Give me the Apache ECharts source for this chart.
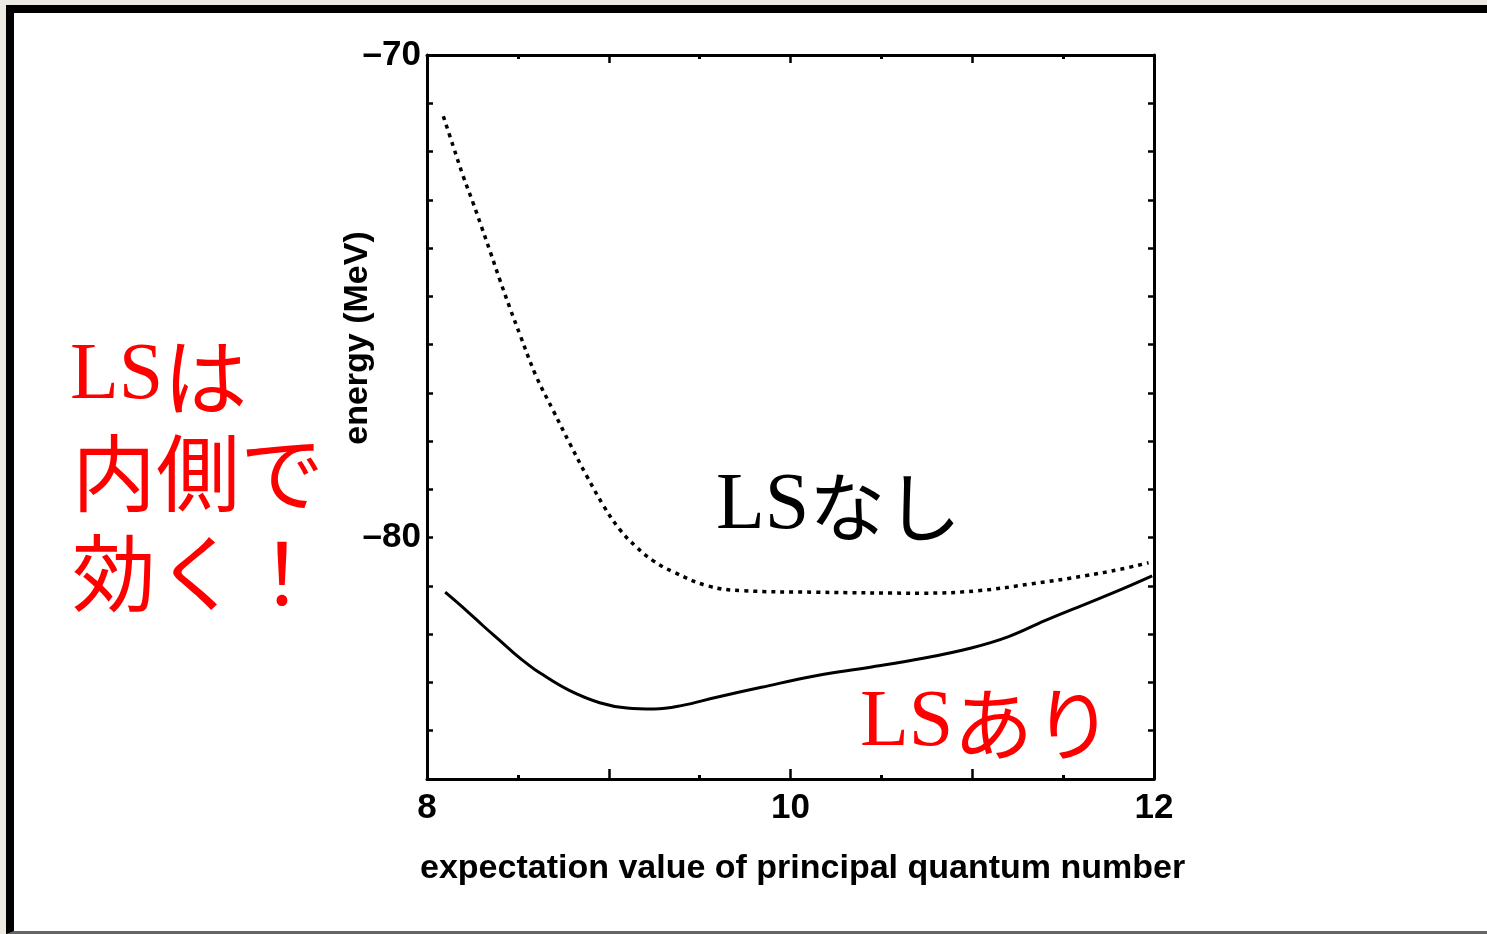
<!DOCTYPE html>
<html>
<head>
<meta charset="utf-8">
<title>energy vs principal quantum number</title>
<script src="https://cdn.jsdelivr.net/npm/echarts@6/dist/echarts.min.js"></script>
<style>
  html, body { margin: 0; padding: 0; width: 1487px; height: 934px; overflow: hidden; background: #edeae3; }
  #frame {
    position: absolute; left: 6px; top: 5px; width: 1500px; height: 918px;
    background: #ffffff;
    border-top: 8px solid #000; border-left: 8px solid #000; border-bottom: 3px solid #666;
  }
  #chart { position: absolute; left: 0; top: 0; width: 1487px; height: 934px; }
</style>
</head>
<body>
<div id="frame"></div>
<div id="chart"></div>
<script>
// Without LS force (dotted curve)
const xNoLS = [8.09, 8.145, 8.20, 8.255, 8.30, 8.35, 8.40, 8.457, 8.512, 8.60, 8.695, 8.787, 8.88, 8.97, 9.06, 9.154, 9.245, 9.35, 9.545, 9.74, 10.14, 10.73, 11.03, 11.32, 11.62, 11.82, 11.97];
const yNoLS = [-71.27, -71.90, -72.52, -73.08, -73.56, -74.10, -74.65, -75.25, -75.80, -76.65, -77.37, -78.06, -78.73, -79.33, -79.83, -80.20, -80.48, -80.70, -81.00, -81.10, -81.13, -81.15, -81.10, -80.96, -80.79, -80.65, -80.52];

// With LS force (solid curve)
const xLS = [8.10, 8.22, 8.31, 8.40, 8.475, 8.55, 8.62, 8.78, 8.95, 9.10, 9.25, 9.40, 9.60, 9.84, 10.14, 10.43, 10.73, 11.00, 11.20, 11.40, 11.62, 11.82, 11.99];
const yLS = [-81.13, -81.52, -81.83, -82.13, -82.38, -82.61, -82.80, -83.16, -83.42, -83.53, -83.55, -83.48, -83.30, -83.10, -82.86, -82.69, -82.50, -82.28, -82.05, -81.72, -81.38, -81.07, -80.79];

const xTickLabels = [8, 10, 12];
const yTickLabels = [-70, -80];

const xTitle = 'expectation value of principal quantum number';
const yTitle = 'energy (MeV)';

const zip = (xs, ys) => xs.map((x, i) => [x, ys[i]]);

const tickFont = { fontFamily: 'Liberation Sans, Arial, sans-serif', fontWeight: 'bold', fontSize: 35, color: '#000' };
const lineBlack = { color: '#000', width: 3 };

// Mixed Latin (serif) + Japanese (gothic) annotation text
const noteRich = (color) => ({
  ls: { fontFamily: "'Liberation Serif', serif", fontSize: 80, fill: color },
  jp: { fontFamily: "'Noto Sans CJK JP', sans-serif", fontSize: 84, fill: color }
});

const chart = echarts.init(document.getElementById('chart'), null, { renderer: 'canvas' });

chart.setOption({
  animation: false,
  backgroundColor: 'transparent',
  grid: { left: 427, top: 55, width: 727, height: 724, containLabel: false },
  xAxis: [
    {
      type: 'value', position: 'bottom', min: 8, max: 12, interval: 1,
      axisLine: { show: true, onZero: false, lineStyle: lineBlack },
      axisTick: { show: true, inside: true, length: 10, lineStyle: { color: '#000', width: 2.5 } },
      minorTick: { show: true, splitNumber: 2, length: 4, lineStyle: { color: '#000', width: 3 } },
      splitLine: { show: false },
      axisLabel: {
        ...tickFont, margin: 12,
        formatter: v => (xTickLabels.indexOf(v) >= 0 ? String(v) : '')
      }
    },
    {
      type: 'value', position: 'top', min: 8, max: 12, interval: 1,
      axisLine: { show: true, onZero: false, lineStyle: lineBlack },
      axisTick: { show: true, inside: true, length: 8, lineStyle: { color: '#000', width: 2.5 } },
      minorTick: { show: true, splitNumber: 2, length: 4, lineStyle: { color: '#000', width: 3 } },
      splitLine: { show: false },
      axisLabel: { show: false }
    }
  ],
  yAxis: [
    {
      type: 'value', position: 'left', min: -85, max: -70, interval: 1,
      axisLine: { show: true, onZero: false, lineStyle: lineBlack },
      axisTick: { show: true, inside: true, length: 6, lineStyle: { color: '#000', width: 2.5 } },
      splitLine: { show: false },
      axisLabel: {
        ...tickFont, margin: 6,
        formatter: v => (yTickLabels.indexOf(v) >= 0 ? '\u2013' + String(Math.abs(v)) : '')
      }
    },
    {
      type: 'value', position: 'right', min: -85, max: -70, interval: 1,
      axisLine: { show: true, onZero: false, lineStyle: lineBlack },
      axisTick: { show: true, inside: true, length: 6, lineStyle: { color: '#000', width: 2.5 } },
      splitLine: { show: false },
      axisLabel: { show: false }
    }
  ],
  series: [
    {
      name: 'LSなし', type: 'line', xAxisIndex: 0, yAxisIndex: 0,
      data: zip(xNoLS, yNoLS), smooth: 0.4, showSymbol: false,
      lineStyle: { color: '#000', width: 3.5, type: [4, 5], cap: 'butt' }
    },
    {
      name: 'LSあり', type: 'line', xAxisIndex: 0, yAxisIndex: 0,
      data: zip(xLS, yLS), smooth: 0.4, showSymbol: false,
      lineStyle: { color: '#000', width: 3 }
    }
  ],
  graphic: [
    {
      type: 'text', left: 420, top: 852,
      style: { text: xTitle, fontFamily: 'Liberation Sans, Arial, sans-serif', fontWeight: 'bold', fontSize: 34, fill: '#000' }
    },
    {
      type: 'text', x: 358, y: 338, rotation: Math.PI / 2,
      style: { text: yTitle, fontFamily: 'Liberation Sans, Arial, sans-serif', fontWeight: 'bold', fontSize: 34, fill: '#000', align: 'center', verticalAlign: 'middle' }
    },
    {
      type: 'text', x: 70, y: 377,
      style: { text: '{ls|LS}{jp|は}', rich: noteRich('#ff0000'), verticalAlign: 'middle' }
    },
    {
      type: 'text', x: 72, y: 473,
      style: { text: '{jp|内側で}', rich: noteRich('#ff0000'), verticalAlign: 'middle' }
    },
    {
      type: 'text', x: 72, y: 573,
      style: { text: '{jp|効く！}', rich: noteRich('#ff0000'), verticalAlign: 'middle' }
    },
    {
      type: 'text', x: 716, y: 507,
      style: { text: '{ls|LS}{jp|なし}', rich: { ls: noteRich('#000').ls, jp: { fontFamily: "'Noto Sans CJK JP', sans-serif", fontSize: 76, fill: '#000' } }, verticalAlign: 'middle' }
    },
    {
      type: 'text', x: 860, y: 724,
      style: { text: '{ls|LS}{jp|あり}', rich: { ls: noteRich('#ff0000').ls, jp: { fontFamily: "'Noto Sans CJK JP', sans-serif", fontSize: 80, fill: '#ff0000' } }, verticalAlign: 'middle' }
    }
  ]
});
</script>
</body>
</html>
